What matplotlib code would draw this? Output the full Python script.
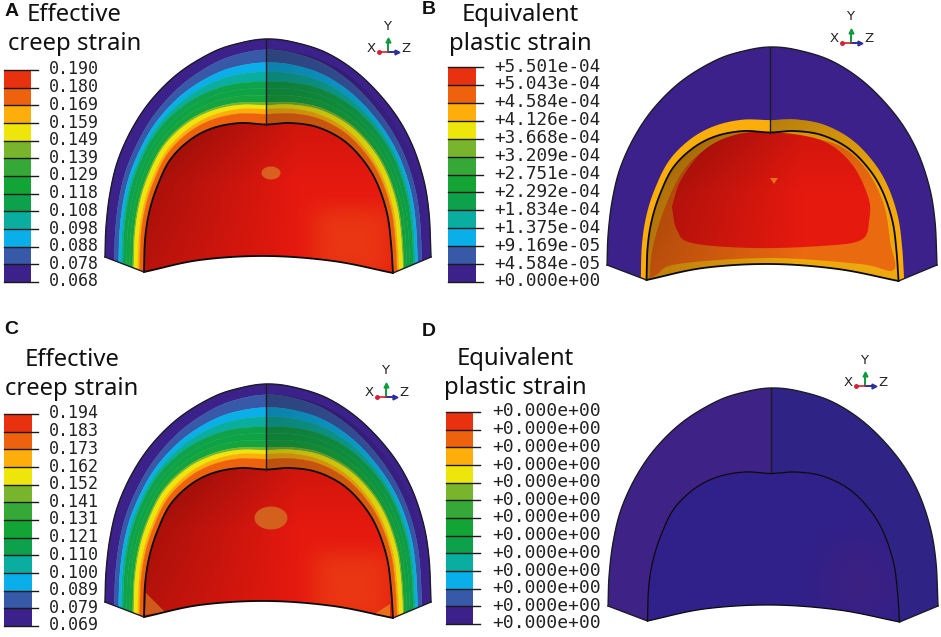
import numpy as np
import matplotlib
matplotlib.use("Agg")
import matplotlib.pyplot as plt
from matplotlib.colors import to_rgb
from matplotlib.patches import Polygon

# legend values, top to bottom
labels_a = ["0.190", "0.180", "0.169", "0.159", "0.149", "0.139", "0.129",
            "0.118", "0.108", "0.098", "0.088", "0.078", "0.068"]
labels_b = ["+5.501e-04", "+5.043e-04", "+4.584e-04", "+4.126e-04", "+3.668e-04",
            "+3.209e-04", "+2.751e-04", "+2.292e-04", "+1.834e-04", "+1.375e-04",
            "+9.169e-05", "+4.584e-05", "+0.000e+00"]
labels_c = ["0.194", "0.183", "0.173", "0.162", "0.152", "0.141", "0.131",
            "0.121", "0.110", "0.100", "0.089", "0.079", "0.069"]
labels_d = ["+0.000e+00"] * 13

# contour colours, top of the legend first
cell_colors = ["#e8310f", "#ee620e", "#fdae0a", "#eee60a", "#78b52c", "#35a838",
               "#12a535", "#0ca14a", "#0aaea0", "#0aaee8", "#3858a8", "#3b2189"]

# contour outlines as fraction of the wall, outer surface = 0, inner = 1
# order: purple, blue, cyan, teal, 3 greens, lime, yellow, amber, orange
band_colors = ["#3b2189", "#3858a8", "#0aaee8", "#0aaea0", "#0ea24a", "#0ea344", "#14a53e",
               "#78b52c", "#eee60a", "#fdae0a", "#ee620e"]
band_ends_top = [0.126, 0.276, 0.382, 0.50, 0.58, 0.66, 0.745, 0.775, 0.82, 0.88, 1.0]
band_ends_side = [0.24, 0.35, 0.41, 0.46, 0.55, 0.63, 0.71, 0.74, 0.84, 0.89, 1.0]

# shell geometry of panel A, read in pixels
outer_x = [105, 106, 110, 118, 133, 153, 180, 213, 240, 266, 293, 327, 360, 390, 410, 423, 429, 431]
outer_y = [257, 227, 193, 160, 127, 98, 72, 52, 43, 39, 42, 53, 75, 107, 140, 177, 213, 257]
inner_x = [144, 145, 149, 157, 170, 190, 213, 240, 266, 290, 317, 343, 363, 377, 387, 391, 393]
inner_y = [272, 240, 213, 187, 160, 140, 128, 123, 124.5, 123, 127, 140, 160, 183, 213, 243, 273]
arc_x = [144, 200, 266, 333, 393]
arc_y = [272, 260, 256, 261, 273]

# inner contours of panel B, in panel A pixels
amber_x = [147, 150, 162, 180, 205, 240, 266, 300, 335, 360, 378, 385, 388, 355, 266, 175, 152]
amber_y = [270, 240, 200, 163, 140, 130, 129, 129, 138, 160, 195, 235, 262, 256, 250, 256, 268]
red_x = [169, 178, 201, 231, 266, 316, 346, 363, 364, 356, 316, 249, 189, 174]
red_y = [199, 172, 142, 127, 124, 132, 155, 189, 212, 232, 238, 240, 235, 222]


def smooth(xs, ys, per=30):
    # catmull-rom through the outline points
    pts = np.column_stack([xs, ys]).astype(float)
    pts = np.vstack([2 * pts[0] - pts[1], pts, 2 * pts[-1] - pts[-2]])
    out = []
    for i in range(1, len(pts) - 2):
        p0, p1, p2, p3 = pts[i - 1], pts[i], pts[i + 1], pts[i + 2]
        for u in np.linspace(0, 1, per, endpoint=False):
            out.append(0.5 * (2 * p1 + (p2 - p0) * u
                              + (2 * p0 - 5 * p1 + 4 * p2 - p3) * u ** 2
                              + (3 * p1 - p0 - 3 * p2 + p3) * u ** 3))
    out.append(pts[-2])
    return np.array(out)


def even_spacing(curve, n):
    d = np.r_[0, np.cumsum(np.hypot(*np.diff(curve, axis=0).T))]
    q = np.linspace(0, d[-1], n)
    return np.column_stack([np.interp(q, d, curve[:, 0]), np.interp(q, d, curve[:, 1])])


def wall_line(xs, ys, per_side=200):
    # each side resampled by length, both curves then meet the centre at the same index
    c = smooth(xs, ys)
    k = np.argmin(np.abs(c[:, 0] - 266))
    return np.vstack([even_spacing(c[:k + 1], per_side), even_spacing(c[k:], per_side)[1:]])


def soft_layer(ax, pts, color, alpha, z):
    # alpha is a function of x, y in 0..1 over the bounding box of pts
    x0, y0 = pts.min(axis=0)
    x1, y1 = pts.max(axis=0)
    xx, yy = np.meshgrid(np.linspace(0, 1, 160), np.linspace(0, 1, 160))
    img = np.zeros((160, 160, 4))
    img[..., :3] = to_rgb(color)
    img[..., 3] = np.clip(alpha(xx, yy), 0, 1)
    im = ax.imshow(img, extent=(x0, x1, y1, y0), zorder=z, aspect="auto",
                   interpolation="bilinear")
    clip = Polygon(pts, closed=True, transform=ax.transData)
    im.set_clip_path(clip)


def draw_dome(ax, dx, dy, sx, mode, edge=1.3):
    cx = 266.0

    def place(pts):
        pts = pts.copy()
        pts[:, 0] = (pts[:, 0] - cx) * sx + cx + dx
        pts[:, 1] = pts[:, 1] + dy
        return pts

    outer = place(wall_line(outer_x, outer_y))
    inner = place(wall_line(inner_x, inner_y))
    arc = place(smooth(arc_x, arc_y))
    n = len(outer)
    k = n // 2
    s = np.abs(np.linspace(-1, 1, n)) / 0.6
    s = np.clip(s, 0, 1)
    w = s * s * (3 - 2 * s)
    inner_shape = np.vstack([inner, arc[::-1]])
    wall = np.vstack([outer, inner[::-1]])

    def wall_curve(t):
        return outer + (inner - outer) * t[:, None]

    shade_from = 0.12
    if mode == "creep":
        start = np.zeros(n)
        for col, top, side in zip(band_colors, band_ends_top, band_ends_side):
            end = top + (side - top) * w
            poly = np.vstack([wall_curve(start), wall_curve(end)[::-1]])
            ax.fill(poly[:, 0], poly[:, 1], color=col, lw=0.3, zorder=2)
            start = end
        ax.fill(inner_shape[:, 0], inner_shape[:, 1], color="#e6190f", lw=0, zorder=3)
    elif mode == "plastic":
        shade_from = 0.855
        ax.fill(wall[:, 0], wall[:, 1], color="#3b2189", lw=0, zorder=2)
        poly = np.vstack([wall_curve(np.full(n, 0.855)), inner[::-1]])
        ax.fill(poly[:, 0], poly[:, 1], color="#fbae0a", lw=0, zorder=2)
        ax.fill(inner_shape[:, 0], inner_shape[:, 1], color="#eda80e", lw=0, zorder=3)
        amb = place(smooth(amber_x, amber_y))
        ax.fill(amb[:, 0], amb[:, 1], color="#ea6a10", lw=0, zorder=3)
        red = place(smooth(red_x + red_x[:1], red_y + red_y[:1]))
        ax.fill(red[:, 0], red[:, 1], color="#e6190f", lw=0, zorder=3)
    else:
        ax.fill(wall[:, 0], wall[:, 1], color="#2f2385", lw=0, zorder=2)
        left = np.vstack([outer[:k + 1], inner[:k + 1][::-1]])
        ax.fill(left[:, 0], left[:, 1], color="#3f2285", lw=0, zorder=2)
        ax.fill(inner_shape[:, 0], inner_shape[:, 1], color="#30218a", lw=0, zorder=3)

    # lighting, the right half of the wall and upper left of the cavity are darker
    if mode != "zero":
        lit = wall_curve(np.full(n, shade_from))
        right = np.vstack([lit[k:], inner[k:][::-1]])
        soft_layer(ax, right, "#101010", lambda x, y: 0.3 * (1 - x) ** 0.6 * (1 - 0.85 * y), 4)
        soft_layer(ax, inner_shape, "#300000",
                   lambda x, y: 0.42 * np.clip(1 - x * 1.6, 0, 1) * (1 - 0.4 * y)
                   + 0.12 * np.clip(1 - y * 2.4, 0, 1), 5)
    else:
        soft_layer(ax, inner_shape, "#4a2078",
                   lambda x, y: 0.45 * np.exp(-((x - 0.84) / 0.16) ** 2 - ((y - 0.75) / 0.3) ** 2), 5)

    if mode == "creep":
        soft_layer(ax, inner_shape, "#ef5a18",
                   lambda x, y: 0.45 * np.exp(-((x - 0.84) / 0.17) ** 4 - ((y - 0.8) / 0.25) ** 4), 5)

    ax.plot(outer[:, 0], outer[:, 1], color="#1c1c28", lw=1.0, zorder=7)
    ax.plot(inner[:, 0], inner[:, 1], color="#0a0a0a", lw=edge, zorder=7)
    ax.plot(arc[:, 0], arc[:, 1], color="#0a0a0a", lw=edge, zorder=7)
    ax.plot([outer[0, 0], inner[0, 0]], [outer[0, 1], inner[0, 1]], color="#1c1c28", lw=1.0, zorder=7)
    ax.plot([outer[-1, 0], inner[-1, 0]], [outer[-1, 1], inner[-1, 1]], color="#1c1c28", lw=1.0, zorder=7)
    ax.plot([outer[k, 0], inner[k, 0]], [outer[k, 1], inner[k, 1]], color="#1c1c28", lw=1.0, zorder=7)


def draw_legend(ax, x0, x1, tick_end, y0, y1, labels, label_x, size):
    edges = np.linspace(y0, y1, len(labels))
    for i, col in enumerate(cell_colors):
        ax.bar(x0, edges[i + 1] - edges[i], width=x1 - x0, bottom=edges[i], align="edge",
               color=col, lw=0, zorder=2)
    for e, lab in zip(edges, labels):
        ax.plot([x0, tick_end], [e, e], color="#1a1a1a", lw=1.0, zorder=3)
        ax.text(label_x, e - 0.5, lab, family="DejaVu Sans Mono", fontsize=size, color="#222222",
                va="center", ha="left")


def draw_triad(ax, x, y):
    ox, oy = x, y
    ax.text(ox - 1, oy - 26, "Y", fontsize=9.5, ha="center", va="center", color="#222222")
    ax.text(ox - 17, oy - 4, "X", fontsize=9.5, ha="center", va="center", color="#222222")
    ax.text(ox + 18, oy - 4, "Z", fontsize=9.5, ha="center", va="center", color="#222222")
    ax.plot([ox, ox], [oy, oy - 12], color="#0f9a3c", lw=1.4, zorder=3)
    ax.plot([ox], [oy - 12], marker="^", ms=3.5, color="#0f9a3c", zorder=3)
    ax.plot([ox, ox + 9], [oy, oy], color="#2a2f9a", lw=1.4, zorder=3)
    ax.plot([ox + 9], [oy], marker=">", ms=3.5, color="#2a2f9a", zorder=3)
    ax.plot([ox - 9, ox], [oy, oy], color="#d42030", lw=1.2, zorder=3)
    ax.plot([ox - 9], [oy], marker="o", ms=2.5, color="#d42030", zorder=3)


fig = plt.figure(figsize=(9.41, 6.37), dpi=100)
ax = fig.add_axes([0, 0, 1, 1])

draw_dome(ax, 0, 0, 1.0, "creep")
draw_dome(ax, 504, 8, 1.012, "plastic")
draw_dome(ax, 0, 345, 1.0, "creep")
draw_dome(ax, 505, 349, 1.012, "zero", edge=0.9)

# orange spots on the cavity wall
ax.fill(271 + 9.5 * np.cos(np.linspace(0, 6.3, 40)), 173 + 6.5 * np.sin(np.linspace(0, 6.3, 40)),
        color="#d9601e", lw=0, zorder=6)
ax.fill(271 + 16.5 * np.cos(np.linspace(0, 6.3, 40)), 518 + 11.5 * np.sin(np.linspace(0, 6.3, 40)),
        color="#d4601e", lw=0, zorder=6)
ax.fill([770, 778, 774], [178, 178, 184], color="#e8701a", lw=0, zorder=6)
ax.fill([145, 146, 165], [615, 593, 612], color="#cf5a1a", lw=0, zorder=6)
ax.fill([390, 390, 373], [617, 604, 615], color="#e8701a", lw=0, zorder=6)

draw_legend(ax, 4, 31, 38, 70, 282, labels_a, 49, 12)
draw_legend(ax, 448, 476, 483, 67, 282, labels_b, 494, 12.7)
draw_legend(ax, 4, 32, 38, 414, 626, labels_c, 49, 12)
draw_legend(ax, 446, 473, 480, 412, 624, labels_d, 492, 13)

title_font = dict(family="Noto Sans", fontsize=17.2, color="#111111", ha="center", va="center")
ax.text(74.5, 15, "Effective", **title_font)
ax.text(74.5, 44, "creep strain", **title_font)
ax.text(72, 360, "Effective", **title_font)
ax.text(72, 389, "creep strain", **title_font)
ax.text(520.5, 15, "Equivalent", **title_font)
ax.text(520.5, 44, "plastic strain", **title_font)
ax.text(515, 359, "Equivalent", **title_font)
ax.text(515, 388, "plastic strain", **title_font)

for letter, x, y in [("A", 5, 12), ("B", 422, 10), ("C", 4, 330), ("D", 422, 331)]:
    ax.text(x, y, letter, family="Liberation Sans", fontsize=14, fontweight="bold",
            ha="left", va="center", color="#111111")

draw_triad(ax, 388, 52)
draw_triad(ax, 851, 43)
draw_triad(ax, 386, 397)
draw_triad(ax, 865, 386)

ax.set_xlim(0, 941)
ax.set_ylim(637, 0)
ax.axis("off")
fig.savefig("out.png", dpi=100, facecolor="white")
